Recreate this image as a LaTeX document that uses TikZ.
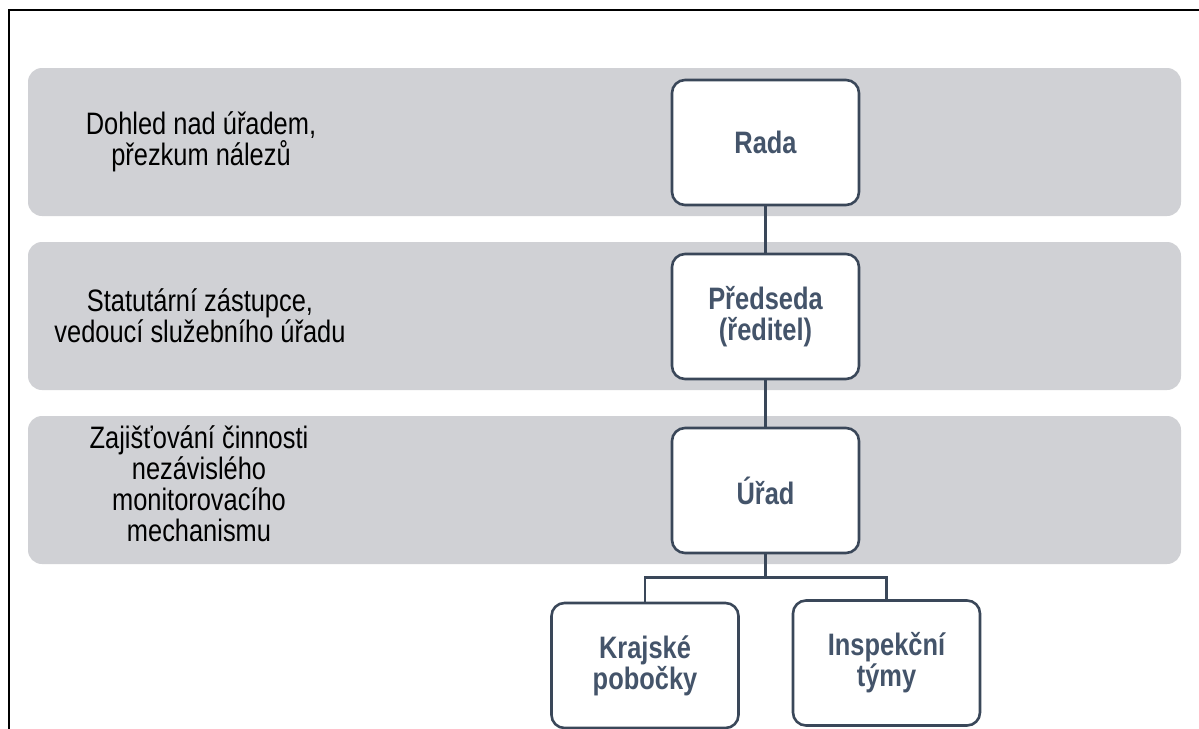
\documentclass[tikz,border=0pt]{standalone}
\usepackage{fontspec}
\setmainfont{Liberation Sans}[FakeStretch=0.82]
\definecolor{bandgray}{RGB}{208,209,213}
\definecolor{slate}{RGB}{68,84,106}
\definecolor{slateline}{RGB}{58,71,89}
\begin{document}
\begin{tikzpicture}[x=1pt,y=-1pt,
  band/.style={fill=bandgray,draw=none,rounded corners=14pt,
    minimum width=1153pt,minimum height=148pt,inner sep=0pt},
  unit/.style={draw=slateline,fill=white,line width=2.6pt,rounded corners=13pt,
    minimum width=187pt,minimum height=125pt,inner sep=2pt,
    text=slate,align=center,font=\fontsize{31}{31}\selectfont\bfseries},
  lbl/.style={align=center,text=black,inner sep=0pt,
    font=\fontsize{31}{31}\selectfont},
  link/.style={draw=slateline,line width=2.6pt}]
\useasboundingbox (0,0) rectangle (1199,728);
\fill[white] (0,0) rectangle (1199,728);

% outer frame (only top and left edges fall inside the page)
\draw[line width=2.2pt] (9,760) -- (9,10) -- (1230,10);

% level bands
\node[band] (b1) at (604.5,142) {};
\node[band] (b2) at (604.5,316) {};
\node[band] (b3) at (604.5,490) {};

% level descriptions
\node[lbl] (l1) at (201,142) {Dohled nad úřadem,\\přezkum nálezů};
\node[lbl] (l2) at (200,316) {Statutární zástupce,\\vedoucí služebního úřadu};
\node[lbl] (l3) at (199,484) {Zajišťování činnosti\\nezávislého\\monitorovacího\\mechanismu};

% organisational units
\node[unit] (rada) at (765.5,142.5) {Rada};
\node[unit] (pred) at (765.5,316.5) {Předseda\\(ředitel)};
\node[unit] (urad) at (765.5,490.5) {Úřad};
\node[unit] (kraj) at (645,665.5) {Krajské\\pobočky};
\node[unit] (insp) at (886.5,663) {Inspekční\\týmy};

% connectors
\draw[link] (rada.south) -- (pred.north);
\draw[link] (pred.south) -- (urad.north);
\draw[link] (urad.south) -- ++(0,23) coordinate (split);
\draw[link] (kraj.north) |- (split) -| (insp.north);
\end{tikzpicture}
\end{document}
